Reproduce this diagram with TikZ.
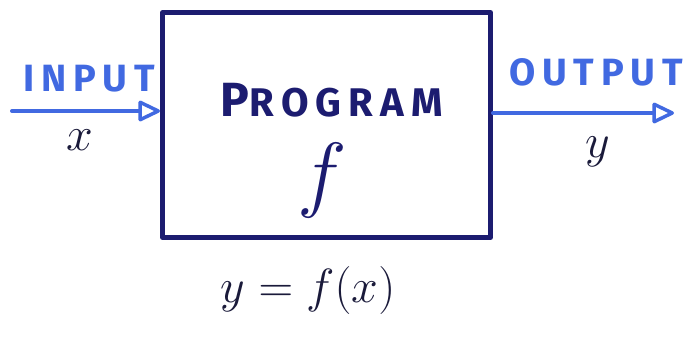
\RequirePackage{fix-cm}
\documentclass[tikz,border=0pt]{standalone}
\usepackage{fontspec}
\newfontfamily\handfont{Fira Sans}[LetterSpace=18]
\newfontfamily\progfont{Fira Sans}[LetterSpace=18]
\usetikzlibrary{arrows.meta}
\definecolor{navy}{HTML}{1C1C70}
\definecolor{penblue}{HTML}{4169E1}
\definecolor{ink}{HTML}{1A1A3A}
\begin{document}
\begin{tikzpicture}[x=1pt,y=-1pt,
  boxline/.style={draw=navy,line width=5pt,line join=round,line cap=round},
  flow/.style={draw=penblue,line width=4pt,line cap=round,
    -{Triangle[open,length=24pt,width=22pt,line width=3.5pt,round]}},
  bluelabel/.style={text=penblue,font=\handfont\fontsize{38}{44}\selectfont\bfseries},
  mathlabel/.style={text=ink,font=\fontsize{48}{54}\selectfont}]
\useasboundingbox (0,0) rectangle (687,341);
\node[boxline,minimum width=328pt,minimum height=225pt,anchor=north west] (prog) at (160,10) {};
\node[text=navy,font=\progfont\bfseries] (progtxt) at (332,100) {{\fontsize{48}{54}\selectfont P}{\fontsize{40}{46}\selectfont ROGRAM}};
\node[text=navy,font=\fontsize{84}{94}\selectfont] (ftxt) at (322,180) {$f$};
\coordinate (inStart) at (12,111);
\coordinate (outEnd) at (674,113);
\draw[flow] (inStart) -- (prog.west |- inStart);
\draw[flow] (prog.east |- outEnd) -- (outEnd);
\node[bluelabel] (inlbl) at (89,79) {INPUT};
\node[bluelabel] (outlbl) at (596,72) {OUTPUT};
\node[mathlabel] (xlbl) at (80,140) {$x$};
\node[mathlabel] (ylbl) at (598,152) {$y$};
\node[mathlabel] (eq) at (308,290) {$y=f(x)$};
\end{tikzpicture}
\end{document}
